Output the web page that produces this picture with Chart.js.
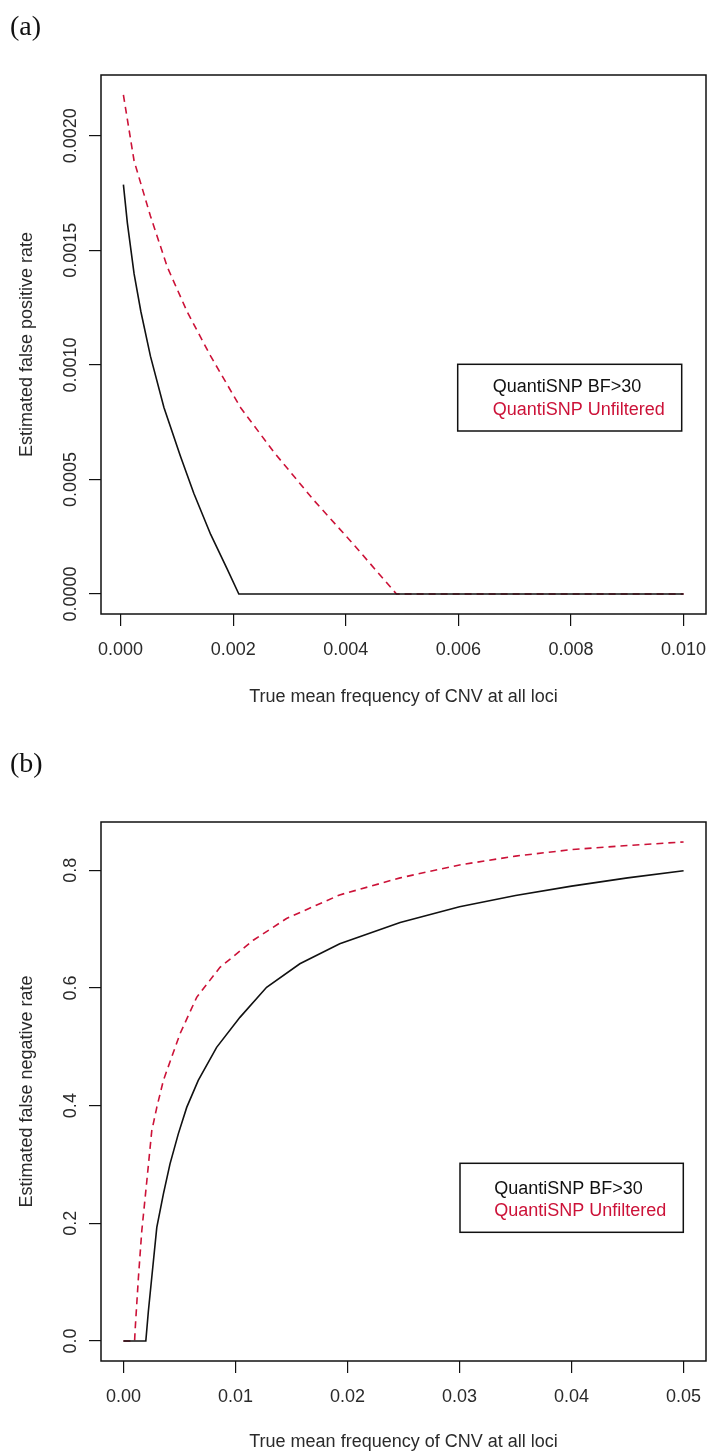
<!DOCTYPE html>
<html><head><meta charset="utf-8">
<script src="https://cdn.jsdelivr.net/npm/chart.js@4.4.1/dist/chart.umd.min.js"></script>
<style>
html,body{margin:0;padding:0;background:#fff;}
body{width:710px;height:1454px;position:relative;overflow:hidden;}
.wrap{position:absolute;left:0;width:710px;}
.panel{position:absolute;left:10px;font-family:'Liberation Serif','Times New Roman',serif;font-size:28px;line-height:28px;color:#111;}
</style></head><body>
<div class="wrap" style="top:0;height:740px"><canvas id="c1" width="710" height="740"></canvas></div>
<div class="wrap" style="top:740px;height:714px"><canvas id="c2" width="710" height="714"></canvas></div>
<div class="panel" style="top:12px">(a)</div>
<div class="panel" style="top:749px">(b)</div>
<script>
// ---------- data ----------
const seriesLabels = ['QuantiSNP BF>30', 'QuantiSNP Unfiltered'];

// Panel (a): estimated false positive rate
const fpXTitle = 'True mean frequency of CNV at all loci';
const fpYTitle = 'Estimated false positive rate';
const fpBfX = [0.00005, 0.00012, 0.00024, 0.00036, 0.00053, 0.00077, 0.00106, 0.0013, 0.0016, 0.00189, 0.0021, 0.01];
const fpBfY = [0.001787, 0.00162, 0.001397, 0.001233, 0.001038, 0.000814, 0.000604, 0.00044, 0.00026, 0.000111, 0, 0];
const fpUnX = [0.00005, 0.00024, 0.00053, 0.00083, 0.00118, 0.0016, 0.00213, 0.00272, 0.00343, 0.00414, 0.0049, 0.01];
const fpUnY = [0.002178, 0.00189, 0.00165, 0.001427, 0.001233, 0.001038, 0.000814, 0.00062, 0.00041, 0.000216, 0, 0];
const fpXTickStep = 0.002, fpYTickStep = 0.0005;

// Panel (b): estimated false negative rate
const fnXTitle = 'True mean frequency of CNV at all loci';
const fnYTitle = 'Estimated false negative rate';
const fnBfX = [0, 0.002, 0.00223, 0.00253, 0.00298, 0.00357, 0.00416, 0.0049, 0.00565, 0.00668, 0.00832, 0.0104, 0.01278, 0.01575, 0.01931, 0.0247, 0.03, 0.035, 0.04, 0.045, 0.05];
const fnBfY = [0, 0, 0.051, 0.108, 0.193, 0.25, 0.301, 0.352, 0.397, 0.443, 0.499, 0.55, 0.601, 0.641, 0.675, 0.711, 0.738, 0.757, 0.773, 0.787, 0.799];
const fnUnX = [0, 0.001, 0.00104, 0.00134, 0.00164, 0.00209, 0.00253, 0.00298, 0.00357, 0.00505, 0.00654, 0.00862, 0.01159, 0.01456, 0.0193, 0.0247, 0.03, 0.035, 0.04, 0.045, 0.05];
const fnUnY = [0, 0, 0.017, 0.108, 0.187, 0.272, 0.357, 0.397, 0.443, 0.522, 0.584, 0.635, 0.681, 0.718, 0.758, 0.787, 0.809, 0.824, 0.835, 0.842, 0.848];
const fnXTickStep = 0.01, fnYTickStep = 0.2;

// ---------- styling ----------
const FONT = "'Liberation Sans', Arial, sans-serif";
const FS = 18;
const TXT = '#2a2a2a';
const BLACK = '#111';
const RED = '#cc1238';

function pts(xs, ys) { return xs.map((x, i) => ({x: x, y: ys[i]})); }
function axisRange(vals, frac) {
  const mn = Math.min(...vals), mx = Math.max(...vals), d = (mx - mn) * frac;
  return [mn - d, mx + d];
}
const measureCtx = document.createElement('canvas').getContext('2d');
measureCtx.font = FS + 'px ' + FONT;

const rPlugin = {
  id: 'rframe',
  afterDraw(chart, args, opts) {
    const ctx = chart.ctx, a = chart.chartArea;
    ctx.save();
    ctx.strokeStyle = BLACK; ctx.lineWidth = 1.5;
    ctx.strokeRect(a.left, a.top, a.right - a.left, a.bottom - a.top);
    const L = opts.legend;
    if (L) {
      const x0 = a.right - L.right - L.width, y0 = a.top + L.top;
      ctx.strokeRect(x0, y0, L.width, L.height);
      ctx.font = FS + 'px ' + FONT;
      ctx.textAlign = 'left'; ctx.textBaseline = 'middle';
      chart.data.datasets.forEach((ds, i) => {
        ctx.fillStyle = ds.borderColor;
        ctx.fillText(ds.label, x0 + L.textX, y0 + L.line1 + i * L.gap);
      });
    }
    ctx.restore();
  }
};

function makeChart(id, cfg) {
  const xr = axisRange(cfg.xs, 0.04), yr = axisRange(cfg.ys, 0.04);
  const labW = measureCtx.measureText(cfg.yFmt(0)).width;
  return new Chart(document.getElementById(id), {
    type: 'line',
    data: {
      datasets: [
        {label: seriesLabels[0], data: pts(cfg.d[0], cfg.d[1]), borderColor: BLACK, borderWidth: 1.6, pointRadius: 0, tension: 0, fill: false},
        {label: seriesLabels[1], data: pts(cfg.d[2], cfg.d[3]), borderColor: RED, borderWidth: 1.6, borderDash: [7, 5], pointRadius: 0, tension: 0, fill: false}
      ]
    },
    options: {
      responsive: false, animation: false, devicePixelRatio: 1,
      layout: {padding: {top: cfg.top, right: 4, left: 0, bottom: 0}},
      plugins: {legend: {display: false}, tooltip: {enabled: false}, rframe: {legend: cfg.legend}},
      scales: {
        x: {
          type: 'linear', position: 'bottom', min: xr[0], max: xr[1],
          afterFit(s) { s.height = cfg.xH; s.paddingLeft = 0; s.paddingRight = 0; },
          border: {display: false},
          grid: {drawOnChartArea: false, drawTicks: true, tickLength: 12, color: BLACK, lineWidth: 1.2},
          ticks: {stepSize: cfg.xStep, includeBounds: false, autoSkip: false, maxRotation: 0, padding: 13,
                  color: TXT, font: {family: FONT, size: FS}, callback: v => cfg.xFmt(v)},
          title: {display: true, text: cfg.xTitle, color: TXT, font: {family: FONT, size: FS}, padding: {top: 0, bottom: cfg.xTitlePad}}
        },
        y: {
          type: 'linear', position: 'left', min: yr[0], max: yr[1],
          afterFit(s) { s.width = 101; s.paddingTop = 0; s.paddingBottom = 0; },
          border: {display: false},
          grid: {drawOnChartArea: false, drawTicks: true, tickLength: 12, color: BLACK, lineWidth: 1.2},
          ticks: {stepSize: cfg.yStep, includeBounds: false, autoSkip: false, minRotation: 90, maxRotation: 90,
                  padding: 17.5, labelOffset: -labW / 2,
                  color: TXT, font: {family: FONT, size: FS}, callback: v => cfg.yFmt(v)},
          title: {display: true, text: cfg.yTitle, color: TXT, font: {family: FONT, size: FS}, padding: {top: 16, bottom: 0}}
        }
      }
    },
    plugins: [rPlugin]
  });
}

makeChart('c1', {
  d: [fpBfX, fpBfY, fpUnX, fpUnY],
  xs: fpBfX.concat(fpUnX), ys: fpBfY.concat(fpUnY),
  top: 75, xH: 126, xTitlePad: 32.5,
  xStep: fpXTickStep, yStep: fpYTickStep,
  xFmt: v => Math.abs(v) < 1e-12 ? '0.000' : v.toFixed(3),
  yFmt: v => Math.abs(v) < 1e-12 ? '0.0000' : v.toFixed(4),
  xTitle: fpXTitle, yTitle: fpYTitle,
  legend: {right: 24.3, top: 289.3, width: 224, height: 66.7, textX: 35, line1: 23, gap: 22.7}
});
makeChart('c2', {
  d: [fnBfX, fnBfY, fnUnX, fnUnY],
  xs: fnBfX.concat(fnUnX), ys: fnBfY.concat(fnUnY),
  top: 82, xH: 93, xTitlePad: 1.5,
  xStep: fnXTickStep, yStep: fnYTickStep,
  xFmt: v => Math.abs(v) < 1e-12 ? '0.00' : v.toFixed(2),
  yFmt: v => Math.abs(v) < 1e-12 ? '0.0' : v.toFixed(1),
  xTitle: fnXTitle, yTitle: fnYTitle,
  legend: {right: 22.7, top: 341.3, width: 223.3, height: 69, textX: 34.3, line1: 26, gap: 21.7}
});
</script>
</body></html>
